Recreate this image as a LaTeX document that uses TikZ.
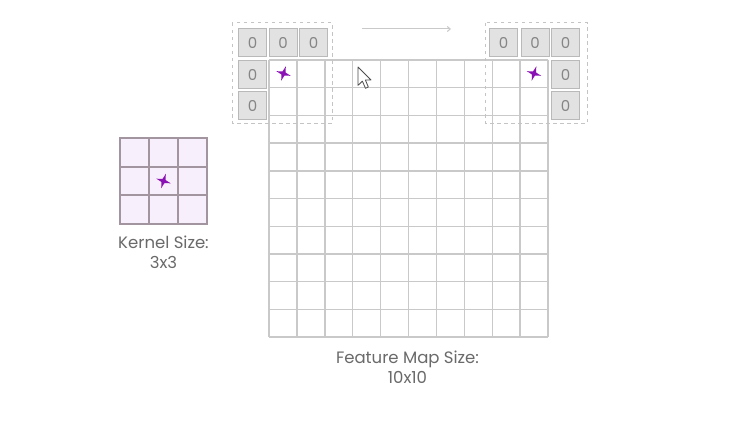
\documentclass[tikz,border=0pt]{standalone}
\usepackage{fontspec}
\setmainfont{Poppins}
\usetikzlibrary{arrows.meta}
\definecolor{gridc}{HTML}{C9C9C9}
\definecolor{padfill}{HTML}{E2E2E2}
\definecolor{padline}{HTML}{B9B9B9}
\definecolor{padtext}{HTML}{858585}
\definecolor{dashc}{HTML}{C4C4C4}
\definecolor{kfill}{HTML}{F7EFFB}
\definecolor{kline}{HTML}{A2959F}
\definecolor{starc}{HTML}{8A12B5}
\definecolor{txt}{HTML}{6A6A6A}
\tikzset{
  gridline/.style={draw=gridc, line width=1.4pt},
  padcell/.style={draw=padline, fill=padfill, line width=1pt, minimum width=28pt, minimum height=28pt, inner sep=0pt, text=padtext, font=\fontsize{15}{15}\selectfont},
  dashbox/.style={draw=dashc, line width=1pt, dash pattern=on 3.5pt off 3.5pt},
  lbl/.style={text=txt, align=center, font=\fontsize{16.5}{20}\selectfont},
  starshape/.pic={\fill[starc] (0,-7.5) -- (1.6,-1.6) -- (7.5,0) -- (1.6,1.6) -- (0,7.5) -- (-1.6,1.6) -- (-7.5,0) -- (-1.6,-1.6) -- cycle;}
}
\begin{document}
\begin{tikzpicture}[x=1pt,y=-1pt]
\useasboundingbox[fill=white] (0,0) rectangle (751,433);
% feature map grid
\foreach \i in {0,...,10}{
  \draw[gridline] ({269+\i*27.9},60) -- ({269+\i*27.9},337);
  \draw[gridline] (269,{60+\i*27.7}) -- (548,{60+\i*27.7});
}
% dashed windows
\draw[dashbox] (232,23) rectangle (332,123);
\draw[dashbox] (485,23) rectangle (587,123);
% padding cells left
\node[padcell, anchor=north west] (pl1) at (238,28.5) {0};
\node[padcell, anchor=north west] (pl2) at (268.5,28.5) {0};
\node[padcell, anchor=north west] (pl3) at (299,28.5) {0};
\node[padcell, anchor=north west] (pl4) at (238,60) {0};
\node[padcell, anchor=north west] (pl5) at (238,91) {0};
% padding cells right
\node[padcell, anchor=north west] (pr1) at (489,28.5) {0};
\node[padcell, anchor=north west] (pr2) at (520.5,28.5) {0};
\node[padcell, anchor=north west] (pr3) at (551,28.5) {0};
\node[padcell, anchor=north west] (pr4) at (551,60) {0};
\node[padcell, anchor=north west] (pr5) at (551,91) {0};
% stars in grid
\pic[rotate=-18] at (283.5,73.5) {starshape};
\pic[rotate=-18] at (534,73.5) {starshape};
% sliding arrow
\coordinate (arrS) at (362,29);
\coordinate (arrE) at (451,29);
\draw[draw=gridc, line width=1pt, -{Straight Barb[length=3pt,width=5pt]}] (arrS) -- (arrE);
% mouse cursor
\draw[fill=white, draw=black!70, line width=0.8pt, line join=round, shift={(358,67)}, scale=1.15]
  (0,0) -- (0,16) -- (3.8,12.3) -- (6.5,18.5) -- (9,17.4) -- (6.4,11.3) -- (11.3,11.3) -- cycle;
% kernel
\fill[kfill] (120,138) rectangle (207,224);
\foreach \i in {1,2}{
  \draw[draw=kline, line width=2pt] ({120+\i*29},138) -- ({120+\i*29},224);
  \draw[draw=kline, line width=2pt] (120,{138+\i*28.7}) -- (207,{138+\i*28.7});
}
\draw[draw=kline, line width=2pt] (120,138) rectangle (207,224);
\pic[rotate=-18] at (163.5,181) {starshape};
% labels
\node[lbl] (klabel) at (163.5,252) {Kernel Size:\\3x3};
\node[lbl] (flabel) at (407.5,367) {Feature Map Size:\\10x10};
\end{tikzpicture}
\end{document}
